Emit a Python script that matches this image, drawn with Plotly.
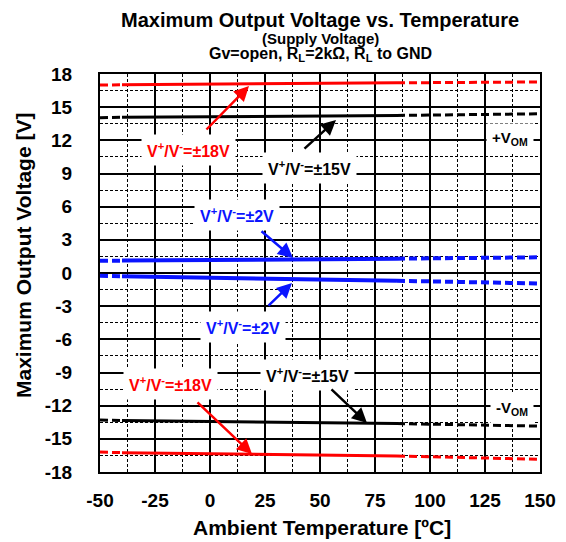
import plotly.graph_objects as go

# ---- data ----
temps = [-50, -40, 25, 85, 150]
red_pos = [17.0, 17.02, 17.1, 17.2, 17.28]
black_pos = [14.05, 14.08, 14.15, 14.25, 14.4]
blue_pos = [1.1, 1.12, 1.2, 1.3, 1.42]
blue_neg = [-0.25, -0.3, -0.5, -0.7, -0.95]
black_neg = [-13.3, -13.35, -13.5, -13.62, -13.85]
red_neg = [-16.2, -16.25, -16.4, -16.55, -16.85]

x_ticks = [-50, -25, 0, 25, 50, 75, 100, 125, 150]
y_ticks = [-18, -15, -12, -9, -6, -3, 0, 3, 6, 9, 12, 15, 18]

series = [
    (red_pos, "#ff0000", 3),
    (black_pos, "#000000", 3),
    (blue_pos, "#0a14ff", 4),
    (blue_neg, "#0a14ff", 4),
    (black_neg, "#000000", 3),
    (red_neg, "#ff0000", 3),
]

FONT = "Arial, Liberation Sans, sans-serif"

fig = go.Figure()
for vals, col, w in series:
    # left extended (dashed), guaranteed range (solid), right extended (dashed)
    segs = [(slice(0, 2), "8px,4px"), (slice(1, 4), "solid"), (slice(3, 5), "8px,4px")]
    for sl, dash in segs:
        fig.add_trace(go.Scatter(x=temps[sl], y=vals[sl], mode="lines",
                                 line=dict(color=col, width=w, dash=dash),
                                 showlegend=False, hoverinfo="skip"))

def px2x(px):
    return (px - 100) / 2.2 - 50

def py2y(py):
    return 18 - (py - 74) / (398 / 36)

# labels (text with white background)
labels = [
    ("V<sup>+</sup>/V<sup>-</sup>=±18V", 188, 150, "#ff0000", 16),
    ("V<sup>+</sup>/V<sup>-</sup>=±15V", 309, 168, "#000000", 16),
    ("+V<sub>OM</sub>", 510, 138, "#000000", 15),
    ("V<sup>+</sup>/V<sup>-</sup>=±2V", 237, 215, "#0a14ff", 16),
    ("V<sup>+</sup>/V<sup>-</sup>=±2V", 243, 327, "#0a14ff", 16),
    ("V<sup>+</sup>/V<sup>-</sup>=±15V", 307, 375, "#000000", 16),
    ("V<sup>+</sup>/V<sup>-</sup>=±18V", 170, 384, "#ff0000", 16),
    ("-V<sub>OM</sub>", 512, 408, "#000000", 15),
]
for txt, px, py, col, fs in labels:
    fig.add_annotation(x=px2x(px), y=py2y(py), xref="x", yref="y", text=txt,
                       showarrow=False, bgcolor="white", borderpad=5,
                       font=dict(family=FONT, size=fs, color=col, weight="bold"))

# arrows (tail px,py -> tip px,py)
arrows = [
    ((205, 131), (249, 86), "#ff0000"),
    ((303, 150), (336, 120), "#000000"),
    ((260, 230), (293, 258), "#0a14ff"),
    ((267, 307), (292, 283), "#0a14ff"),
    ((330, 388), (367, 423), "#000000"),
    ((196, 401), (252, 454), "#ff0000"),
]
for (tx, ty), (hx, hy), col in arrows:
    fig.add_annotation(x=px2x(hx), y=py2y(hy), ax=px2x(tx), ay=py2y(ty),
                       xref="x", yref="y", axref="x", ayref="y", text="",
                       showarrow=True, arrowhead=2, arrowsize=1.2,
                       arrowwidth=2.5, arrowcolor=col)

# titles
def pyp(py):
    return (472 - py) / 398

def pxp(px):
    return (px - 100) / 440

fig.add_annotation(x=0.5, y=pyp(20), xref="paper", yref="paper", showarrow=False,
                   text="Maximum Output Voltage vs. Temperature", yanchor="middle",
                   font=dict(family=FONT, size=20, color="black", weight="bold"))
fig.add_annotation(x=0.5, y=pyp(38), xref="paper", yref="paper", showarrow=False,
                   text="(Supply Voltage)", yanchor="middle",
                   font=dict(family=FONT, size=15, color="black", weight="bold"))
fig.add_annotation(x=0.5, y=pyp(55), xref="paper", yref="paper", showarrow=False,
                   text="Gv=open, R<sub>L</sub>=2kΩ, R<sub>L</sub> to GND", yanchor="middle",
                   font=dict(family=FONT, size=16, color="black", weight="bold"))
# axis titles
fig.add_annotation(x=pxp(322), y=pyp(527), xref="paper", yref="paper", showarrow=False,
                   text="Ambient Temperature [ºC]", yanchor="middle", xanchor="center",
                   font=dict(family=FONT, size=21, color="black", weight="bold"))
fig.add_annotation(x=pxp(23), y=pyp(256), xref="paper", yref="paper", showarrow=False,
                   text="Maximum Output Voltage [V]", textangle=-90,
                   yanchor="middle", xanchor="center",
                   font=dict(family=FONT, size=21, color="black", weight="bold"))

axis_common = dict(
    showline=True, linecolor="black", linewidth=2, mirror=True,
    showgrid=True, gridcolor="black", gridwidth=2,
    zeroline=False, ticks="", automargin=False,
    tickfont=dict(family=FONT, size=19, color="black", weight="bold"),
)

fig.update_xaxes(range=[-50, 150], tickvals=x_ticks, ticktext=[str(v) for v in x_ticks],
                 minor=dict(tick0=-50, dtick=12.5, showgrid=True, gridcolor="black",
                            gridwidth=1.3, griddash="3px,2px"),
                 ticklabelstandoff=10,
                 **axis_common)
fig.update_yaxes(range=[-18, 18], tickvals=y_ticks, ticktext=[str(v) for v in y_ticks],
                 minor=dict(tick0=0, dtick=1.5, showgrid=True, gridcolor="black",
                            gridwidth=1.3, griddash="3px,2px"),
                 ticklabelstandoff=22,
                 **axis_common)

# page body has an 8px margin: size/margins chosen so the plot area lands at
# x 100..540, y 74..472 in the 566x542 window
fig.update_layout(width=558, height=534, margin=dict(l=92, r=26, t=66, b=70),
                  plot_bgcolor="white", paper_bgcolor="white", showlegend=False)

fig.write_html("out.html")
